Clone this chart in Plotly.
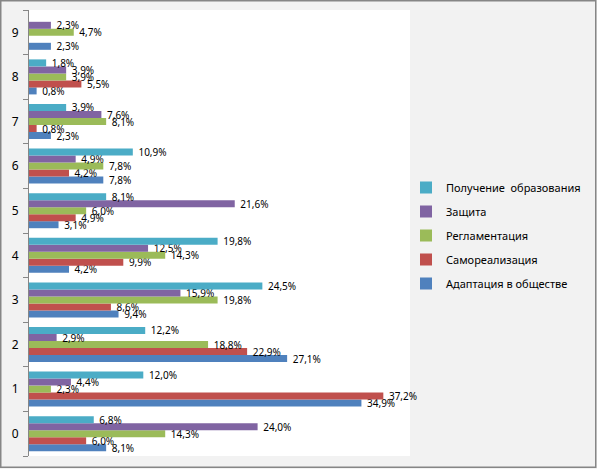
import plotly.graph_objects as go

categories = ["0", "1", "2", "3", "4", "5", "6", "7", "8", "9"]

# values in % (None = no bar)
adaptation = [8.1, 34.9, 27.1, 9.4, 4.2, 3.1, 7.8, 2.3, 0.8, 2.3]
self_realization = [6.0, 37.2, 22.9, 8.6, 9.9, 4.9, 4.2, 0.8, 5.5, None]
regulation = [14.3, 2.3, 18.8, 19.8, 14.3, 6.0, 7.8, 8.1, 3.9, 4.7]
protection = [24.0, 4.4, 2.9, 15.9, 12.5, 21.6, 4.9, 7.6, 3.9, 2.3]
education = [6.8, 12.0, 12.2, 24.5, 19.8, 8.1, 10.9, 3.9, 1.8, None]

series = [
    ("Адаптация в обществе", adaptation, "#4F81BD"),
    ("Самореализация", self_realization, "#C0504D"),
    ("Регламентация", regulation, "#9BBB59"),
    ("Защита", protection, "#8064A2"),
    ("Получение  образования", education, "#4BACC6"),
]


def labels(values):
    return ["" if v is None else "\u00a0" + f"{v:.1f}%".replace(".", ",") for v in values]


fig = go.Figure()
for i, (name, vals, color) in enumerate(series):
    fig.add_trace(go.Bar(
        y=categories, x=vals, name=name, orientation="h",
        marker=dict(color=color, line=dict(width=0)),
        text=labels(vals), textposition="outside", constraintext="none",
        cliponaxis=False, textfont=dict(size=10, color="#000000"),
        legendgroup=name, legendrank=len(series) - i,
    ))

W, H = 597, 469
ml, mr, mt, mb = 29, 187, 10, 13
pw, ph = W - ml - mr, H - mt - mb

fig.update_layout(
    width=W, height=H,
    margin=dict(l=ml, r=mr, t=mt, b=mb, pad=0),
    paper_bgcolor="#f2f2f2",
    plot_bgcolor="#ffffff",
    font=dict(family="Noto Sans", size=11, color="#000000"),
    barmode="group",
    bargap=0.215,
    bargroupgap=0,
    showlegend=True,
    legend=dict(
        traceorder="grouped", tracegroupgap=5,
        x=(406 - ml) / pw, xanchor="left",
        y=(H - mb - 173) / ph, yanchor="top",
        bgcolor="rgba(0,0,0,0)", font=dict(size=11),
    ),
    xaxis=dict(range=[0, 40], showticklabels=False, showgrid=False,
               zeroline=False, ticks="", showline=False, fixedrange=True),
    yaxis=dict(type="category", showline=True, linecolor="#868686", linewidth=1,
               ticks="outside", tickson="boundaries", ticklen=5, tickcolor="#868686",
               ticklabelstandoff=7,
               showgrid=False, tickfont=dict(size=12), fixedrange=True),
    shapes=[dict(type="rect", xref="paper", yref="paper",
                 x0=-(ml - 0.75) / pw, x1=(W - ml - 1.25) / pw,
                 y0=-(mb - 1.75) / ph, y1=1 + (mt - 0.75) / ph,
                 line=dict(color="#868686", width=1.5), fillcolor="rgba(0,0,0,0)",
                 layer="below")],
)

fig.write_html("out.html", config={"displayModeBar": False},
               post_script="document.body.style.margin='0';")
